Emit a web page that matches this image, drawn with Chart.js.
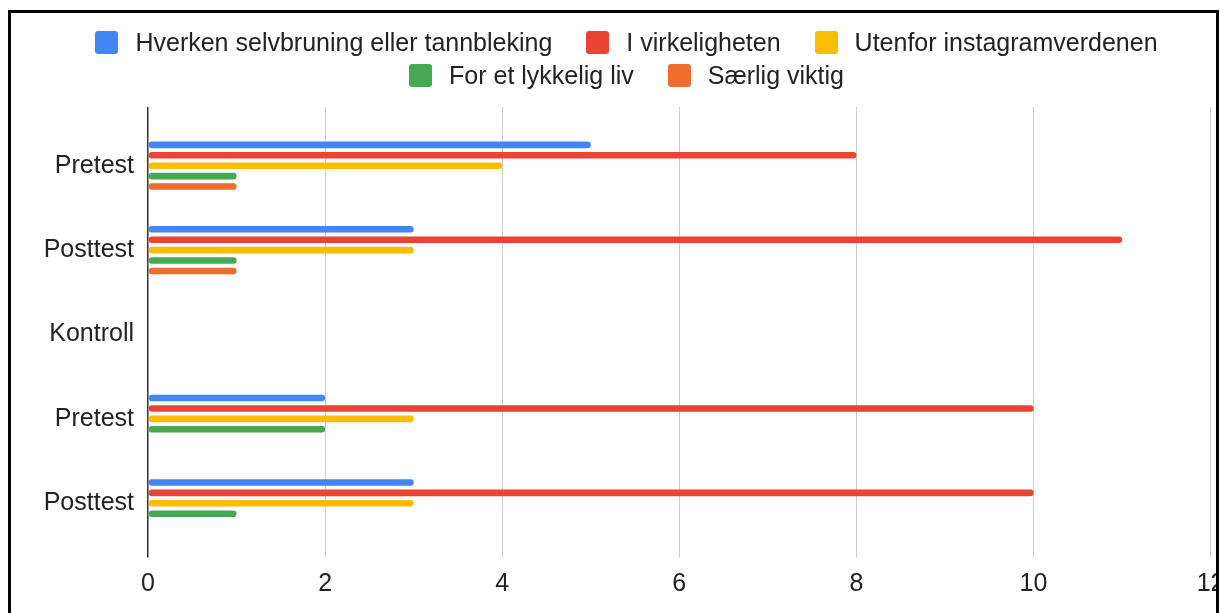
<!DOCTYPE html>
<html>
<head>
<meta charset="utf-8">
<script src="https://cdn.jsdelivr.net/npm/chart.js@4"></script>
<style>
  body { margin: 0; background: #fff; font-family: "Liberation Sans", Arial, sans-serif; }
  #frame {
    position: absolute; left: 8px; top: 10px; width: 1205px; height: 603px;
    border: 3px solid #000; border-bottom: none; overflow: hidden; background: #fff;
  }
  #chart { position: absolute; left: 0; top: 0; }
  #legend {
    position: absolute; left: 26px; right: 0; top: 13px; z-index: 2;
    display: flex; flex-wrap: wrap; justify-content: center; padding: 0 28px;
  }
  .item { display: flex; align-items: center; height: 33px; margin: 0 17px; font-size: 25px; color: #222; white-space: nowrap; }
  .box { width: 23px; height: 23px; border-radius: 3px; margin-right: 17px; }
  .brk { flex-basis: 100%; height: 0; }
</style>
</head>
<body>
<div id="frame">
  <div id="legend"></div>
  <canvas id="chart" width="1225" height="600"></canvas>
</div>
<script>
var groups = ["Pretest", "Posttest", "Kontroll", "Pretest", "Posttest"];
var seriesNames = [
  "Hverken selvbruning eller tannbleking",
  "I virkeligheten",
  "Utenfor instagramverdenen",
  "For et lykkelig liv",
  "Særlig viktig"
];
var hverken  = [5, 3, null, 2, 3];
var virkelig = [8, 11, null, 10, 10];
var utenfor  = [4, 3, null, 3, 3];
var lykkelig = [1, 1, null, 2, 1];
var saerlig  = [1, 1, null, null, null];
var xTicks = [0, 2, 4, 6, 8, 10, 12];

var colors = ["#4285F4", "#EA4335", "#FBBC04", "#46A84F", "#F06C2C"];
var values = [hverken, virkelig, utenfor, lykkelig, saerlig];

var gridColor = function (ctx) {
  return ctx.tick && ctx.tick.value === 0 ? "#333" : "#cccccc";
};
var gridWidth = function (ctx) {
  return ctx.tick && ctx.tick.value === 0 ? 1.5 : 1;
};

// legend as html so the row spacing and item gaps can differ
var htmlLegend = {
  id: "htmlLegend",
  afterUpdate: function (chart) {
    var el = document.getElementById("legend");
    el.innerHTML = "";
    chart.data.datasets.forEach(function (ds, i) {
      if (i === 3) {
        var br = document.createElement("div");
        br.className = "brk";
        el.appendChild(br);
      }
      var item = document.createElement("div");
      item.className = "item";
      var box = document.createElement("span");
      box.className = "box";
      box.style.background = ds.backgroundColor;
      item.appendChild(box);
      item.appendChild(document.createTextNode(ds.label));
      el.appendChild(item);
    });
  }
};

new Chart("chart", {
  type: "bar",
  data: {
    labels: groups,
    datasets: values.map(function (v, i) {
      return {
        label: seriesNames[i],
        data: v,
        backgroundColor: colors[i],
        borderRadius: 3,
        borderSkipped: false,
        categoryPercentage: 0.617,
        barPercentage: 0.63
      };
    })
  },
  options: {
    indexAxis: "y",
    responsive: false,
    animation: false,
    layout: { padding: { left: 0, right: 21.6, top: 94, bottom: 2.5 } },
    plugins: {
      legend: { display: false },
      tooltip: { enabled: false }
    },
    scales: {
      x: {
        position: "bottom",
        min: 0, max: 12,
        afterBuildTicks: function (s) { s.ticks = xTicks.map(function (v) { return { value: v }; }); },
        grid: { color: gridColor, lineWidth: gridWidth, tickLength: 12 },
        border: { display: false },
        ticks: { padding: 11.5, color: "#222", font: { family: "Liberation Sans", size: 25 } }
      },
      x2: {
        position: "top",
        axis: "x",
        min: 0, max: 12,
        afterBuildTicks: function (s) { s.ticks = xTicks.map(function (v) { return { value: v }; }); },
        grid: { color: gridColor, lineWidth: gridWidth, tickLength: 16.5, drawOnChartArea: false },
        border: { display: false },
        ticks: { display: false }
      },
      y: {
        afterFit: function (s) { s.width = 137; },
        grid: { display: false },
        border: { display: false },
        ticks: { padding: 6, color: "#222", font: { family: "Liberation Sans", size: 25 } }
      }
    }
  },
  plugins: [htmlLegend]
});
</script>
</body>
</html>
